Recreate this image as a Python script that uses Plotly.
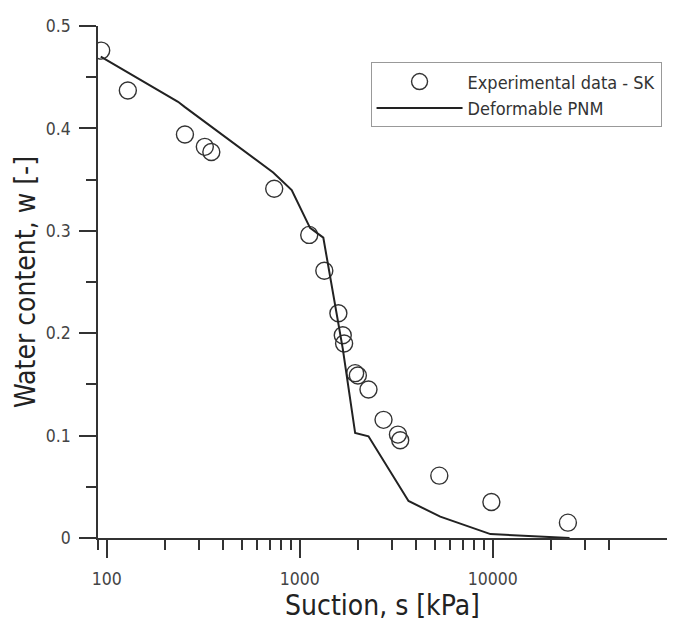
import math
import plotly.graph_objects as go

# Experimental data - SK
suction_exp = [93.5, 128.5, 254, 322, 348, 737, 1119, 1340, 1585, 1670, 1697,
               1936, 2000, 2270, 2716, 3226, 3315, 5285, 9840, 24520]
w_exp = [0.476, 0.437, 0.394, 0.382, 0.377, 0.341, 0.296, 0.261, 0.2195, 0.198,
         0.190, 0.161, 0.1587, 0.145, 0.1154, 0.101, 0.0955, 0.0609, 0.0352, 0.015]

# Deformable PNM
suction_model = [93, 234, 253, 728, 908, 1130, 1324, 1670, 1936, 2270, 3660,
                 5346, 9730, 25000]
w_model = [0.470, 0.426, 0.421, 0.357, 0.3397, 0.3029, 0.2933, 0.185, 0.1025,
           0.0993, 0.0362, 0.0208, 0.0038, 0.0]

x_ticks = [100, 1000, 10000]
x_ticktext = ["100", "1000", "10000"]
x_minor = [90, 200, 300, 400, 500, 600, 700, 800, 900,
           2000, 3000, 4000, 5000, 6000, 7000, 8000, 9000,
           20000, 30000, 40000]
y_ticks = [0, 0.1, 0.2, 0.3, 0.4, 0.5]
y_ticktext = ["0", "0.1", "0.2", "0.3", "0.4", "0.5"]
y_minor = [0.05, 0.15, 0.25, 0.35, 0.45]

FONT = "DejaVu Sans Condensed, DejaVu Sans, sans-serif"

fig = go.Figure()
fig.add_trace(go.Scatter(
    x=suction_exp, y=w_exp, mode="markers", name="Experimental data - SK",
    marker=dict(symbol="circle-open", size=17, color="#333333",
                line=dict(width=1.4, color="#333333")),
))
fig.add_trace(go.Scatter(
    x=suction_model, y=w_model, mode="lines", name="Deformable PNM",
    line=dict(color="#222222", width=2),
))

fig.update_layout(
    width=667, height=618,
    margin=dict(l=90, r=8, t=10, b=88),
    paper_bgcolor="white", plot_bgcolor="white",
    font=dict(family=FONT, color="#333333"),
    legend=dict(
        x=0.479, y=0.929, xanchor="left", yanchor="top",
        bordercolor="#999999", borderwidth=1, bgcolor="white",
        font=dict(size=18, family=FONT, color="#333333"),
        itemwidth=86, tracegroupgap=0,
    ),
)
fig.update_xaxes(
    type="log", range=[math.log10(90), math.log10(80000)],
    tickmode="array", tickvals=x_ticks, ticktext=x_ticktext,
    ticks="outside", ticklen=18, tickwidth=1.5, tickcolor="#333333",
    showline=True, linecolor="#333333", linewidth=1.5,
    showgrid=False, zeroline=False,
    tickfont=dict(size=17.5, family=FONT, color="#444444"),
    ticklabelstandoff=6,
    minor=dict(tickmode="array", tickvals=x_minor, ticks="outside",
               ticklen=10, tickwidth=1.5, tickcolor="#333333", showgrid=False),
    title=dict(text="Suction, s [kPa]", font=dict(size=28, family=FONT, color="#222222"),
               standoff=4),
)
fig.update_yaxes(
    range=[0, 0.5],
    tickmode="array", tickvals=y_ticks, ticktext=y_ticktext,
    ticks="outside", ticklen=17, tickwidth=1.5, tickcolor="#333333",
    showline=True, linecolor="#333333", linewidth=1.5,
    showgrid=False, zeroline=False,
    tickfont=dict(size=17.5, family=FONT, color="#444444"),
    ticklabelstandoff=5,
    minor=dict(tickmode="array", tickvals=y_minor, ticks="outside",
               ticklen=10, tickwidth=1.5, tickcolor="#333333", showgrid=False),
    title=dict(text="Water content, w [-]", font=dict(size=28, family=FONT, color="#222222"),
               standoff=2),
)

fig.write_html("out.html")
